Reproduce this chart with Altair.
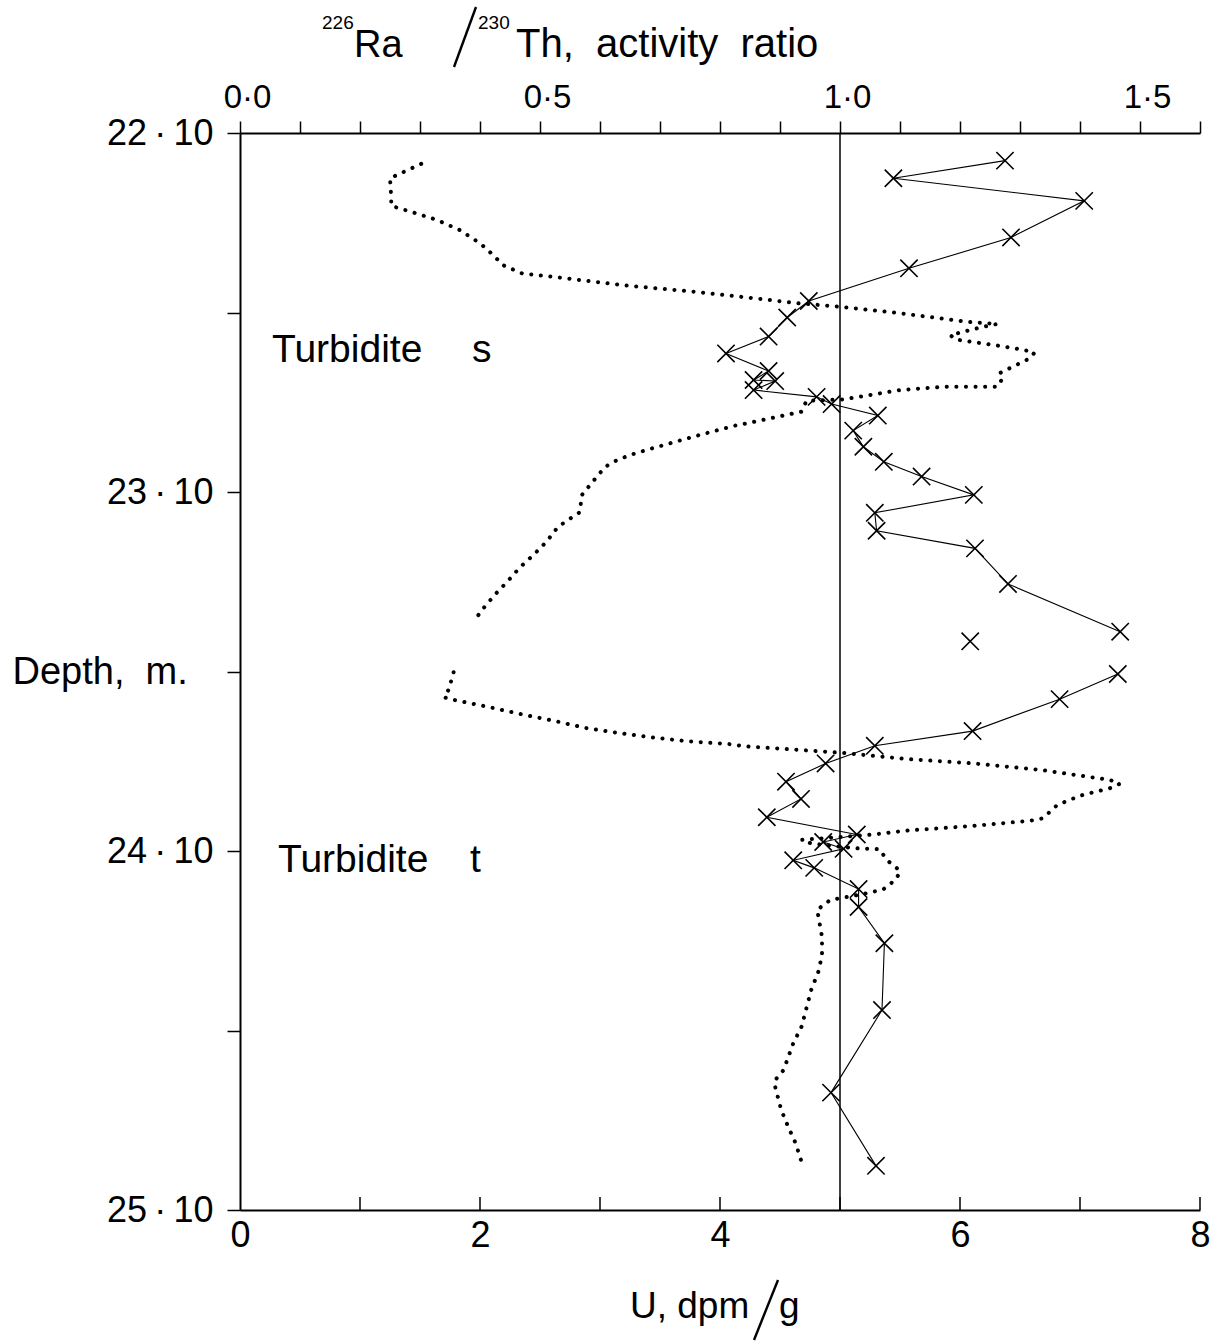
import altair as alt
import pandas as pd

FONT = "Liberation Sans"

# ---- U, dpm/g (dotted profile), two depth segments ----
u_seg1 = [1.51, 1.25, 1.26, 1.26, 1.42, 1.64, 1.83, 2.00, 2.11, 2.19, 2.35, 2.67, 3.22, 3.78, 4.33, 4.61,
          5.00, 5.50, 6.06, 6.31, 6.19, 5.92, 5.96, 6.33, 6.53, 6.62, 6.58, 6.33, 6.35, 6.31, 5.86, 5.50,
          5.03, 4.72, 4.68, 4.22, 4.15, 3.83, 3.44, 3.25, 3.11, 3.04, 2.94, 2.85, 2.83, 2.77, 2.65, 2.55,
          2.44, 2.33, 2.24, 2.13, 2.04, 1.95]
d_seg1 = [22.186, 22.226, 22.277, 22.303, 22.319, 22.342, 22.370, 22.407, 22.440, 22.468, 22.491, 22.503,
          22.525, 22.542, 22.562, 22.573, 22.584, 22.602, 22.626, 22.632, 22.640, 22.663, 22.675, 22.693,
          22.704, 22.712, 22.728, 22.769, 22.786, 22.807, 22.807, 22.816, 22.842, 22.846, 22.876, 22.909,
          22.913, 22.941, 22.978, 22.997, 23.016, 23.031, 23.071, 23.108, 23.157, 23.170, 23.197, 23.240,
          23.277, 23.311, 23.345, 23.384, 23.419, 23.459]
u_seg2 = [1.78, 1.74, 1.70, 1.78, 2.06, 2.33, 2.61, 2.89, 3.17, 3.44, 3.72, 4.11, 4.19, 5.00, 5.56, 6.11,
          6.67, 7.25, 7.33, 7.25, 7.00, 6.81, 6.69, 6.58, 6.11, 5.56, 5.28, 5.00, 4.68, 4.76, 5.11, 5.33,
          5.39, 5.50, 5.47, 5.36, 5.26, 5.08, 4.92, 4.81, 4.85, 4.85, 4.82, 4.76, 4.68, 4.61, 4.53, 4.46,
          4.46, 4.51, 4.57, 4.63, 4.69]
d_seg2 = [23.602, 23.650, 23.672, 23.679, 23.698, 23.718, 23.737, 23.758, 23.772, 23.784, 23.794, 23.803,
          23.808, 23.826, 23.844, 23.856, 23.874, 23.902, 23.913, 23.925, 23.946, 23.972, 24.009, 24.016,
          24.030, 24.043, 24.054, 24.061, 24.069, 24.079, 24.092, 24.095, 24.125, 24.155, 24.178, 24.207,
          24.215, 24.227, 24.236, 24.264, 24.339, 24.390, 24.436, 24.487, 24.589, 24.636, 24.710, 24.738,
          24.757, 24.821, 24.870, 24.914, 24.977]

# ---- 226Ra/230Th activity ratio (crosses) ----
r_segA = [1.275, 1.089, 1.407, 1.285, 1.115, 0.948, 0.912, 0.881, 0.810, 0.881, 0.856, 0.892, 0.856,
          0.961, 0.986, 1.063, 1.022, 1.039, 1.073, 1.136, 1.223, 1.058, 1.061, 1.225, 1.280, 1.467]
rd_segA = [22.177, 22.226, 22.289, 22.391, 22.477, 22.568, 22.614, 22.667, 22.714, 22.763, 22.788, 22.791,
           22.816, 22.835, 22.855, 22.887, 22.929, 22.974, 23.016, 23.057, 23.108, 23.158, 23.208, 23.257,
           23.356, 23.489]
r_single = [1.217]
rd_single = [23.516]
r_segB = [1.463, 1.366, 1.221, 1.058, 0.976, 0.910, 0.935, 0.878, 1.028, 0.972, 1.006, 0.922, 0.957,
          1.031, 1.031, 1.074, 1.070, 0.985, 1.060]
rd_segB = [23.607, 23.677, 23.766, 23.807, 23.856, 23.907, 23.955, 24.006, 24.054, 24.075, 24.094, 24.126,
           24.147, 24.206, 24.256, 24.357, 24.543, 24.773, 24.977]

equilibrium_ratio = [1.0]

# ---- annotations ----
ann_text = ["Turbidite", "s", "Turbidite", "t"]
ann_u = [0.267, 1.933, 0.317, 1.917]
ann_depth = [22.704, 22.704, 24.125, 24.125]

# ---- axes ----
depth_ticks = [22.1, 22.6, 23.1, 23.6, 24.1, 24.6, 25.1]
u_labels = [0, 2, 4, 6, 8]
u_minor = [1, 2, 3, 4, 5, 6, 7, 8]
ratio_ticks = [round(i * 0.1, 1) for i in range(17)]

W, H = 960, 1077
NB = "\u00a0"

dots = pd.DataFrame(
    [{"u": u, "depth": d, "seg": 1, "idx": i} for i, (u, d) in enumerate(zip(u_seg1, d_seg1))]
    + [{"u": u, "depth": d, "seg": 2, "idx": i} for i, (u, d) in enumerate(zip(u_seg2, d_seg2))]
)
ratio_lines = pd.DataFrame(
    [{"r": r, "depth": d, "seg": "A", "idx": i} for i, (r, d) in enumerate(zip(r_segA, rd_segA))]
    + [{"r": r, "depth": d, "seg": "B", "idx": i} for i, (r, d) in enumerate(zip(r_segB, rd_segB))]
)
ratio_pts = pd.DataFrame({"r": r_segA + r_single + r_segB, "depth": rd_segA + rd_single + rd_segB})
ann = pd.DataFrame({"label": ann_text, "u": ann_u, "depth": ann_depth})
uticks = pd.DataFrame({"u": u_minor})
eq = pd.DataFrame({"r": equilibrium_ratio})
one = pd.DataFrame({"k": [0]})

y_label_expr = (
    "indexof(['22.10','23.10','24.10','25.10'], format(datum.value, '.2f')) >= 0 ? "
    "replace(format(datum.value, '.2f'), '.', '\u2009·\u2009') : ''"
)
y_enc = alt.Y(
    "depth:Q",
    scale=alt.Scale(domain=[22.1, 25.1], reverse=True, nice=False, zero=False),
    axis=alt.Axis(
        values=depth_ticks, labelExpr=y_label_expr, tickSize=13, labelPadding=14,
        labelFontSize=36, labelOverlap=False, labelFlush=False,
        title="Depth," + NB + NB + "m.", titleAngle=0, titleAlign="left", titleBaseline="middle",
        titleX=-228, titleY=539, titleFontSize=38,
    ),
)

u_scale = alt.Scale(domain=[0, 8], nice=False, zero=False)
u_axis = alt.Axis(
    orient="bottom", values=u_labels, format="d", ticks=False, labelPadding=8,
    labelFontSize=36, labelFlush=False, labelOverlap=False, title=None,
)
x_u = alt.X("u:Q", scale=u_scale, axis=u_axis)

x_label_expr = (
    "indexof(['0.0','0.5','1.0','1.5'], format(datum.value, '.1f')) >= 0 ? "
    "replace(format(datum.value, '.1f'), '.', '·') : ''"
)
r_scale = alt.Scale(domain=[0, 1.6], nice=False, zero=False)
r_axis = alt.Axis(
    orient="top", values=ratio_ticks, labelExpr=x_label_expr, tickSize=12, labelPadding=7,
    labelOffset=7, labelFontSize=33, labelFlush=False, labelOverlap=False, title=None,
)
x_r = alt.X("r:Q", scale=r_scale, axis=r_axis)

dotted = alt.Chart(dots).mark_line(
    color="black", strokeWidth=4, strokeDash=[0.1, 9.5], strokeCap="round"
).encode(x=x_u, y=y_enc, detail="seg:N", order="idx:Q")

bottom_ticks = alt.Chart(uticks).mark_rule(color="black", strokeWidth=1.5).encode(
    x=x_u, y=alt.value(H - 13), y2=alt.value(H)
)

texts = alt.Chart(ann).mark_text(
    align="left", baseline="middle", font=FONT, fontSize=39, color="black"
).encode(x=x_u, y=y_enc, text="label:N")

group_u = alt.layer(dotted, bottom_ticks, texts)

eq_rule = alt.Chart(eq).mark_rule(color="black", strokeWidth=1.5).encode(
    x=x_r, y=alt.value(0), y2=alt.value(H)
)
r_line = alt.Chart(ratio_lines).mark_line(color="black", strokeWidth=1.1).encode(
    x=x_r, y=y_enc, detail="seg:N", order="idx:Q"
)
r_points = alt.Chart(ratio_pts).mark_point(
    shape="M-1,-1L1,1M-1,1L1,-1", size=300, filled=False, strokeWidth=1.6,
    color="black", opacity=1
).encode(x=x_r, y=y_enc)

group_r = alt.layer(eq_rule, r_line, r_points)


# ---- axis titles composed of text pieces (superscripts and large slashes) ----
def label_piece(txt, x, y, size):
    return alt.Chart(one).mark_text(
        text=txt, align="left", baseline="alphabetic", font=FONT, fontSize=size, color="black"
    ).encode(x=alt.value(x), y=alt.value(y))


def slash(x1, y1, x2, y2):
    return alt.Chart(one).mark_rule(color="black", strokeWidth=2.4).encode(
        x=alt.value(x1), y=alt.value(y1), x2=alt.value(x2), y2=alt.value(y2)
    )


titles = alt.layer(
    label_piece("226", 82, -104, 19),
    label_piece("Ra", 114, -76, 38),
    slash(236, -126, 214, -66),
    label_piece("230", 238, -104, 19),
    label_piece("Th," + NB + " activity" + NB + " ratio", 276, -76, 40),
    label_piece("U, dpm", 390, 1185, 37),
    slash(538, 1147, 514, 1207),
    label_piece("g", 539, 1185, 37),
)

chart = (
    alt.layer(group_u, group_r, titles)
    .resolve_scale(x="independent")
    .properties(
        width=W, height=H,
        autosize=alt.AutoSizeParams(type="none"),
        padding={"left": 240, "top": 133, "right": 26, "bottom": 131},
        background="white",
    )
    .configure_view(stroke=None)
    .configure_axis(
        grid=False, domainColor="black", domainWidth=2, tickColor="black", tickWidth=1.5,
        labelColor="black", titleColor="black", labelFont=FONT, titleFont=FONT,
        titleFontWeight="normal",
    )
)

chart.save("out.html", embed_options={"renderer": "svg", "actions": False})
